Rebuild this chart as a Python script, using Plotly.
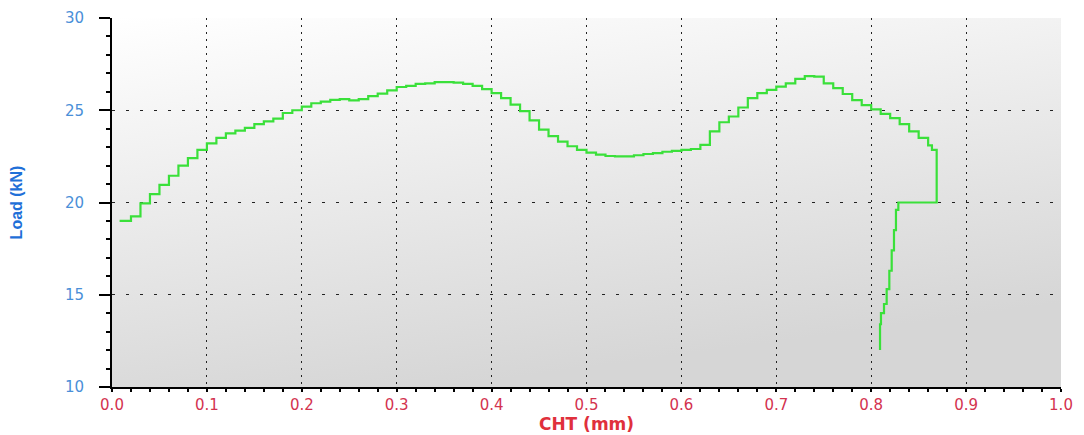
import base64
import plotly.graph_objects as go

# ---- data ----
cht_mm = [
    0.008, 0.02, 0.03, 0.04, 0.05, 0.06, 0.07, 0.08, 0.09, 0.10,
    0.11, 0.12, 0.13, 0.14, 0.15, 0.16, 0.17, 0.18, 0.19, 0.20,
    0.21, 0.22, 0.23, 0.24, 0.25, 0.26, 0.27, 0.28, 0.29, 0.30,
    0.31, 0.32, 0.33, 0.34, 0.35, 0.36, 0.37, 0.38, 0.39, 0.40,
    0.41, 0.42, 0.43, 0.44, 0.45, 0.46, 0.47, 0.48, 0.49, 0.50,
    0.51, 0.52, 0.53, 0.54, 0.55, 0.56, 0.57, 0.58, 0.59, 0.60,
    0.61, 0.62, 0.63, 0.64, 0.65, 0.66, 0.67, 0.68, 0.69, 0.70,
    0.71, 0.72, 0.73, 0.74, 0.75, 0.76, 0.77, 0.78, 0.79, 0.80,
    0.81, 0.82, 0.83, 0.84, 0.85, 0.86, 0.864, 0.869, 0.830,
    0.8286, 0.8261, 0.824, 0.8216, 0.8191, 0.8163, 0.8135, 0.8103, 0.8093,
]
load_kn = [
    19.0, 19.25, 19.95, 20.45, 20.95, 21.45, 22.0, 22.4, 22.85, 23.2,
    23.5, 23.75, 23.9, 24.05, 24.25, 24.4, 24.55, 24.85, 25.0, 25.2,
    25.38, 25.47, 25.56, 25.6, 25.53, 25.6, 25.77, 25.9, 26.08, 26.26,
    26.32, 26.43, 26.46, 26.52, 26.52, 26.5, 26.43, 26.32, 26.14, 25.93,
    25.66, 25.3, 24.95, 24.45, 23.95, 23.6, 23.3, 23.05, 22.85, 22.7,
    22.6, 22.52, 22.5, 22.5, 22.56, 22.63, 22.68, 22.75, 22.8, 22.85,
    22.9, 23.12, 23.85, 24.35, 24.66, 25.15, 25.66, 25.93, 26.1, 26.28,
    26.46, 26.7, 26.85, 26.82, 26.46, 26.2, 25.88, 25.55, 25.28, 25.05,
    24.8, 24.57, 24.25, 23.85, 23.5, 23.1, 22.85, 20.0, 20.0,
    19.6, 18.5, 17.4, 16.3, 15.3, 14.5, 14.0, 13.4, 12.0,
]
x_range = [0.0, 1.0]
y_range = [10, 30]
x_title = "CHT (mm)"
y_title = "Load (kN)"

# ---- styling ----
BLUE_TICK = "#4a8fd8"
BLUE_TITLE = "#1f70d8"
RED_TICK = "#d3334f"
RED_TITLE = "#e0303c"
GREEN = "#3ae03a"
TICK_FONT = "DejaVu Sans, Verdana, sans-serif"

svg = (
    '<svg xmlns="http://www.w3.org/2000/svg" width="100" height="100" preserveAspectRatio="none">'
    '<defs><linearGradient id="g" x1="0" y1="0" x2="0.35" y2="1">'
    '<stop offset="0" stop-color="#ffffff"/><stop offset="1" stop-color="#d6d6d6"/>'
    '</linearGradient></defs><rect width="100" height="100" fill="url(#g)"/></svg>'
)
bg_uri = "data:image/svg+xml;base64," + base64.b64encode(svg.encode()).decode()

fig = go.Figure()
fig.add_trace(go.Scatter(
    x=cht_mm, y=load_kn, mode="lines",
    line=dict(color=GREEN, width=2.2, shape="hv"),
    showlegend=False, hoverinfo="x+y",
))

common_x = dict(range=x_range, dtick=0.1, tick0=0, zeroline=False, automargin=False)
common_y = dict(range=y_range, dtick=5, tick0=10, zeroline=False, automargin=False)

# the page body adds an 8px offset; margins compensate so the plot area
# lands at x 112..1061, y 18..387 in the window
fig.update_layout(
    width=1084, height=435,
    margin=dict(l=104, r=31, t=10, b=56),
    paper_bgcolor="white",
    plot_bgcolor="rgba(0,0,0,0)",
    showlegend=False,
    images=[dict(source=bg_uri, xref="paper", yref="paper", x=0, y=1,
                 sizex=1, sizey=1, sizing="stretch", layer="below",
                 xanchor="left", yanchor="top")],
    xaxis=dict(
        **common_x,
        tickformat=".1f",
        showline=True, linecolor="black", linewidth=2,
        ticks="outside", ticklen=3, tickwidth=2, tickcolor="black",
        minor=dict(dtick=0.02, ticks="outside", ticklen=3, tickwidth=2,
                   tickcolor="black", showgrid=False),
        showgrid=True, gridcolor="#222", gridwidth=1, griddash="2px,5px",
        tickfont=dict(family=TICK_FONT, size=15, color=RED_TICK),
        ticklabelstandoff=0,
        title=dict(text=x_title, standoff=2,
                   font=dict(family=TICK_FONT, size=17, color=RED_TITLE, weight="bold")),
    ),
    xaxis2=dict(
        **common_x, overlaying="x", anchor="y", side="bottom",
        showline=False, showgrid=False, showticklabels=False,
        ticks="inside", ticklen=5, tickwidth=2, tickcolor="black",
        minor=dict(dtick=0.02, ticks="inside", ticklen=3, tickwidth=2,
                   tickcolor="black", showgrid=False),
    ),
    xaxis3=dict(
        **common_x, overlaying="x", anchor="y", side="top",
        showline=True, linecolor="black", linewidth=1.5,
        showgrid=False, showticklabels=False,
        ticks="inside", ticklen=7, tickwidth=2, tickcolor="black",
        minor=dict(dtick=0.02, ticks="inside", ticklen=4, tickwidth=2,
                   tickcolor="black", showgrid=False),
    ),
    yaxis=dict(
        **common_y,
        showline=True, linecolor="black", linewidth=2,
        ticks="outside", ticklen=11, tickwidth=2, tickcolor="black",
        minor=dict(dtick=1, ticks="outside", ticklen=4, tickwidth=2,
                   tickcolor="black", showgrid=False),
        showgrid=True, gridcolor="#222", gridwidth=1, griddash="3px,11px",
        tickfont=dict(family=TICK_FONT, size=15, color=BLUE_TICK),
        ticklabelstandoff=12,
        title=dict(text=y_title, standoff=38,
                   font=dict(family="Liberation Sans Narrow, Arial Narrow, Liberation Sans, sans-serif",
                             size=16, color=BLUE_TITLE, weight="bold")),
    ),
    yaxis2=dict(
        **common_y, overlaying="y", anchor="x", side="left",
        showline=False, showgrid=False, showticklabels=False,
        ticks="inside", ticklen=3, tickwidth=2, tickcolor="black",
        minor=dict(dtick=1, ticks="inside", ticklen=4, tickwidth=2,
                   tickcolor="black", showgrid=False),
    ),
    yaxis3=dict(
        **common_y, overlaying="y", anchor="x", side="right",
        showline=True, linecolor="#333", linewidth=2,
        showgrid=False, showticklabels=False, ticks="",
    ),
)

fig.write_html("out.html")
